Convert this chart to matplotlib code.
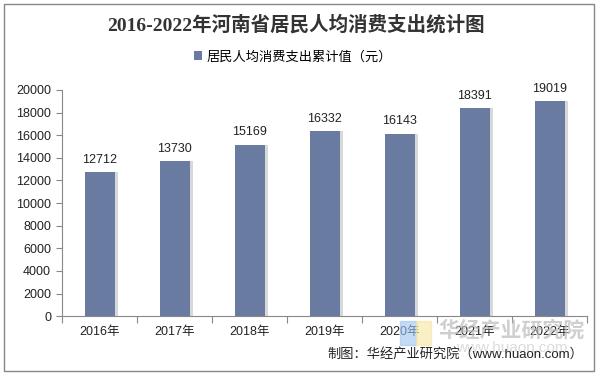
import matplotlib.pyplot as plt
from matplotlib.patches import Rectangle
import numpy as np

plt.rcParams['font.family'] = ['Liberation Sans', 'Noto Sans CJK SC', 'DejaVu Sans']

years = ['2016年', '2017年', '2018年', '2019年', '2020年', '2021年', '2022年']
values = [12712, 13730, 15169, 16332, 16143, 18391, 19019]
series_name = '居民人均消费支出累计值（元）'
title = '2016-2022年河南省居民人均消费支出统计图'
source = '制图：华经产业研究院（www.huaon.com）'

bar_color = '#6A7BA2'

fig = plt.figure(figsize=(5.98, 3.75), dpi=100)
ax = fig.add_axes([0.104, 0.157, 0.878, 0.603])

x = np.arange(len(years))
# 柱子右侧的浅灰阴影
ax.bar(x + 0.04, values, width=0.4, color='#d8d8d8', zorder=1)
ax.bar(x, values, width=0.4, color=bar_color, label=series_name, zorder=2)

for xi, v in zip(x, values):
    ax.text(xi, v + 550, str(v), ha='center', va='bottom', fontsize=9, color='#222222')

ax.set_xlim(-0.5, len(years) - 0.5)
ax.set_ylim(0, 20000)
ax.set_yticks(np.arange(0, 20001, 2000))
ax.tick_params(axis='y', labelsize=9, length=4, color='#888888', labelcolor='#222222', pad=4)

# x 轴刻度在类别之间
ax.set_xticks(np.arange(-0.5, len(years), 1.0))
ax.set_xticklabels([])
ax.set_xticks(x, minor=True)
ax.set_xticklabels(years, minor=True, fontsize=9, color='#222222')
ax.tick_params(axis='x', which='major', length=5, color='#888888')
ax.tick_params(axis='x', which='minor', length=0, pad=7)

for s in ['top', 'right']:
    ax.spines[s].set_visible(False)
for s in ['left', 'bottom']:
    ax.spines[s].set_color('#888888')

fig.text(0.495, 0.935, title, ha='center', va='center', fontsize=14,
         fontweight='bold', color='#333333', family=['Liberation Serif', 'Noto Sans CJK SC'])

leg = fig.legend(loc='center', bbox_to_anchor=(0.49, 0.848), frameon=False,
                 fontsize=9.5, handlelength=0.6, handleheight=0.6, handletextpad=0.3)

# 水印 logo 与文字
fig.patches.append(Rectangle((0.669, 0.08), 0.026, 0.065, transform=fig.transFigure,
                             color='#9ec4f0', alpha=0.6, zorder=5))
fig.patches.append(Rectangle((0.695, 0.08), 0.026, 0.065, transform=fig.transFigure,
                             color='#f5e6a0', alpha=0.6, zorder=5))
fig.text(0.855, 0.118, '华经产业研究院', ha='center', va='center', fontsize=15,
         fontweight='bold', color='#bbbbbb', alpha=0.7)
fig.text(0.855, 0.072, 'www.huaon.com', ha='center', va='center', fontsize=11,
         color='#cccccc', alpha=0.7)

fig.text(0.975, 0.055, source, ha='right', va='center', fontsize=9.5, color='#222222')

fig.patches.append(Rectangle((0.007, 0.01), 0.986, 0.98, transform=fig.transFigure,
                             fill=False, edgecolor='#888888', linewidth=1))

fig.savefig('out.png', dpi=100)
